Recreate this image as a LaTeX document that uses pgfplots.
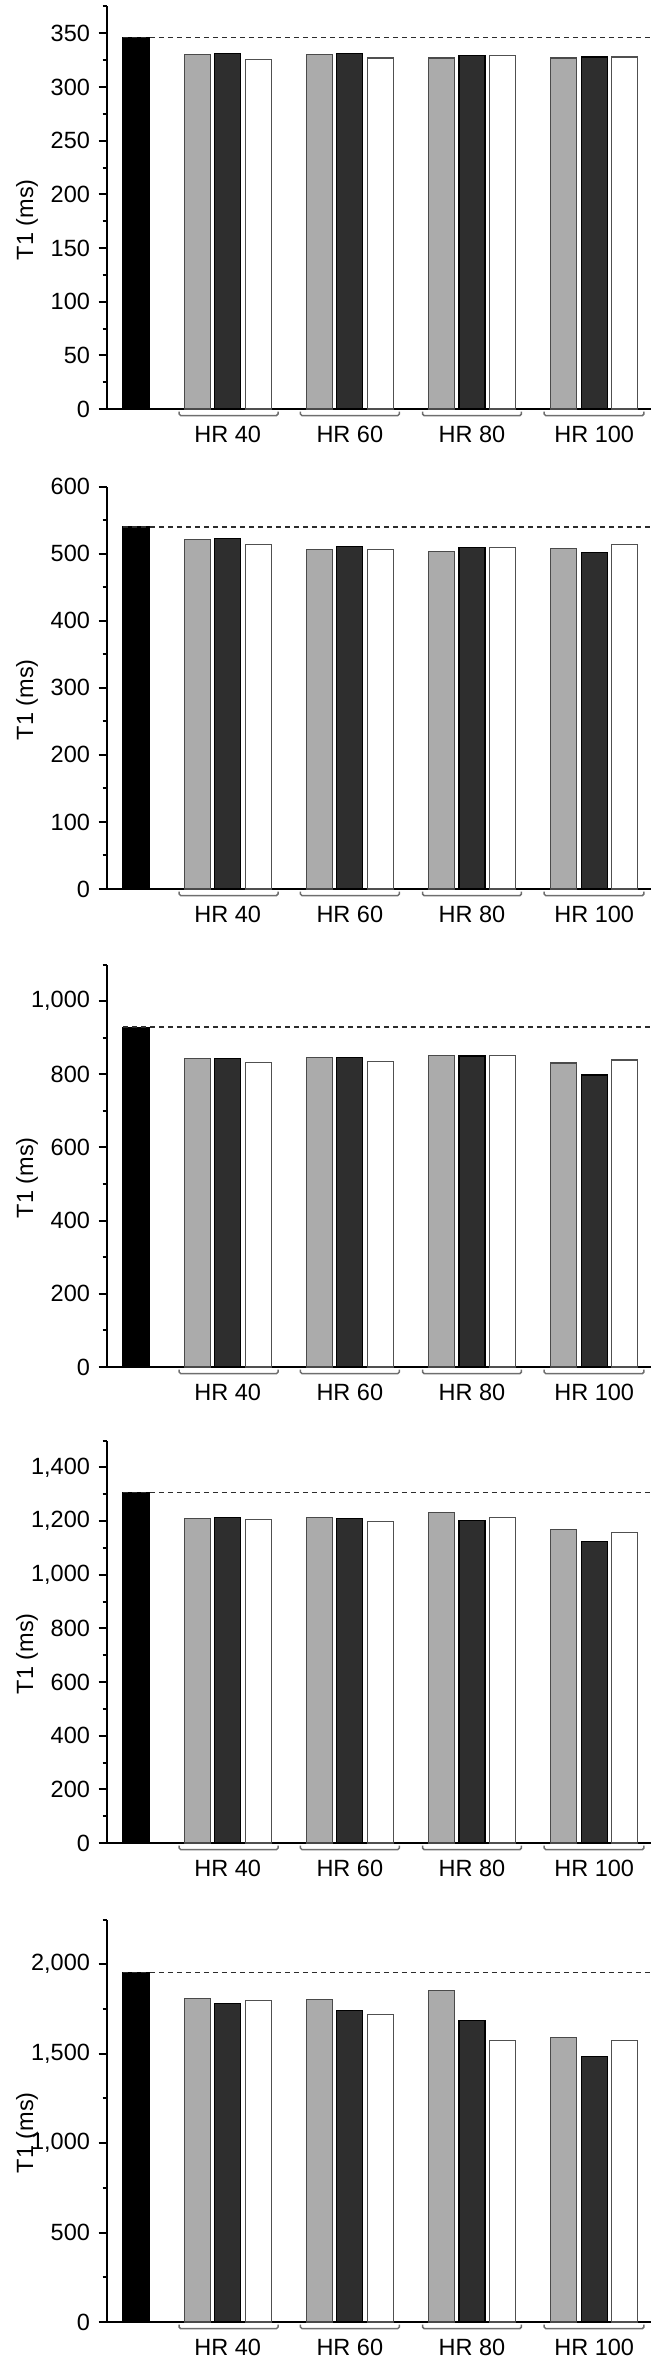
\documentclass[border=0pt]{standalone}
\usepackage{fontspec}
\setmainfont{Liberation Sans}
\usepackage{pgfplots}
\usepackage{pgfplotstable}
\pgfplotsset{compat=1.18}

\definecolor{barA}{HTML}{ABABAB}
\definecolor{barAline}{HTML}{4A4A4A}
\definecolor{barB}{HTML}{2E2E2E}
\definecolor{barCline}{HTML}{505050}
\definecolor{bracecol}{HTML}{6E6E6E}

% group centre, then gray / dark / white bar heights
\pgfplotstableread{
g gray dark white
3 330 331 326
7 330 331 327
11 327 329 329
15 327 328 328
}\tA
\pgfplotstableread{
g gray dark white
3 521 523 514
7 506 510 506
11 503 509 509
15 507 501 513
}\tB
\pgfplotstableread{
g gray dark white
3 843 844 833
7 846 847 836
11 852 850 852
15 831 798 839
}\tC
\pgfplotstableread{
g gray dark white
3 1209 1212 1205
7 1214 1208 1197
11 1233 1203 1213
15 1167 1125 1157
}\tD
\pgfplotstableread{
g gray dark white
3 1810 1780 1799
7 1801 1740 1717
11 1851 1687 1576
15 1591 1486 1576
}\tE

\pgfplotsset{
  panel/.style={
    scale only axis, width=217.6pt, height=161pt,
    xmin=-0.95, xmax=16.86, ymin=0,
    axis x line=bottom, axis y line=left,
    axis line style={-, line width=0.9pt},
    clip=false,
    xtick={3,7,11,15},
    xticklabels={HR 40, HR 60, HR 80, HR 100},
    x tick style={draw=none},
    xticklabel style={yshift=0pt},
    tick align=outside,
    y tick style={line width=0.8pt, black},
    major tick length=3.3pt, minor tick length=1.7pt,
    minor y tick num=1,
    scaled y ticks=false,
    /pgf/number format/1000 sep={,},
    /pgf/number format/assume math mode=true,
    tick label style={font=\fontsize{9.4}{10}\selectfont},
    ylabel={T1 (ms)},
    ylabel style={at={(axis description cs:-0.147,0.47)}, anchor=center,
      font=\fontsize{9.4}{10}\selectfont},
  },
  bars/.style={ybar, bar width=0.85, line width=0.45pt},
}

\newcommand{\hrbrace}[2]{%
  \draw[bracecol, line width=0.6pt, rounded corners=0.6pt]
    ([yshift=-1.0pt]axis cs:#1,0) -- ([yshift=-2.6pt]axis cs:#1,0)
    -- ([yshift=-2.6pt]axis cs:#2,0) -- ([yshift=-1.0pt]axis cs:#2,0);}

% #1 vertical offset, #2 table, #3 reference value, #4 ymax, #5 tick step
\newcommand{\panel}[5]{%
  \begin{axis}[panel, at={(0pt,#1)}, ymax=#4, ytick distance=#5]
    \addplot[bars, fill=black, draw=black] coordinates {(0,#3)};
    \addplot[bars, fill=barA, draw=barAline] table[x expr=\thisrow{g}-1, y=gray]{#2};
    \addplot[bars, fill=barB, draw=black] table[x=g, y=dark]{#2};
    \addplot[bars, fill=white, draw=barCline] table[x expr=\thisrow{g}+1, y=white]{#2};
    \addplot[gray!35!black, line width=0.6pt, dash pattern=on 2pt off 1.6pt]
      coordinates {(-0.43,#3) (16.86,#3)};
    \hrbrace{1.41}{4.65}
    \hrbrace{5.38}{8.62}
    \hrbrace{9.38}{12.62}
    \hrbrace{13.36}{16.63}
  \end{axis}}

\begin{document}
\begin{tikzpicture}
  \useasboundingbox (-42.8pt,163.6pt) rectangle (220.4pt,-784.8pt);
  \panel{0pt}{\tA}{346}{375}{50}
  \panel{-192pt}{\tB}{540}{600}{100}
  \panel{-383.2pt}{\tC}{929}{1100}{200}
  \panel{-573.6pt}{\tD}{1306}{1500}{200}
  \panel{-765.2pt}{\tE}{1955}{2250}{500}
\end{tikzpicture}
\end{document}
